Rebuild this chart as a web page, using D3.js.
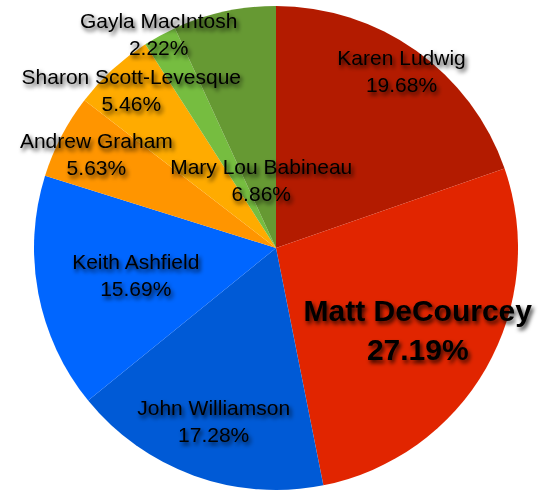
<!DOCTYPE html>
<meta charset="utf-8">
<title>Vote share</title>
<style>
body { margin: 0; background: #fff; }
svg { display: block; }
.lbl { font-family: "Liberation Sans", Arial, Helvetica, sans-serif; fill: #000; }
</style>
<body>
<svg width="542" height="493"></svg>
<script src="https://d3js.org/d3.v7.min.js"></script>
<script>
// candidates, clockwise from 12 o'clock
var names = ["Karen Ludwig", "Matt DeCourcey", "John Williamson", "Keith Ashfield",
             "Andrew Graham", "Sharon Scott-Levesque", "Gayla MacIntosh", "Mary Lou Babineau"];
var shares = [19.68, 27.19, 17.28, 15.69, 5.63, 5.46, 2.22, 6.86];
var colors = ["#b31b00", "#e12500", "#005ad6", "#0066ff", "#ff9500", "#ffab00", "#76bd40", "#669933"];

// how far out (fraction of radius) each label sits on its slice's mid angle
var labelPos = [0.895, 0.675, 0.76, 0.59, 0.837, 0.885, 1.01, 0.286];

var svg = d3.select("svg"),
    cx = 276, cy = 248, R = 242;

var defs = svg.append("defs");
var f = defs.append("filter").attr("id", "shadow")
    .attr("x", "-20%").attr("y", "-30%").attr("width", "140%").attr("height", "170%");
f.append("feDropShadow")
    .attr("dx", 2).attr("dy", 3).attr("stdDeviation", 2.2)
    .attr("flood-color", "#000").attr("flood-opacity", 0.8);

var g = svg.append("g").attr("transform", "translate(" + cx + "," + cy + ")");

var pie = d3.pie().sort(null).value(function(d) { return d; });
var arcs = pie(shares);
var arc = d3.arc().innerRadius(0).outerRadius(R);

g.selectAll("path.slice")
  .data(arcs)
  .enter().append("path")
    .attr("class", "slice")
    .attr("d", arc)
    .attr("fill", function(d, i) { return colors[i]; });

var lab = g.selectAll("text.lbl")
  .data(arcs)
  .enter().append("text")
    .attr("class", "lbl")
    .attr("text-anchor", "middle")
    .attr("filter", "url(#shadow)")
    .attr("transform", function(d, i) {
      var r = R * labelPos[i];
      var c = d3.arc().innerRadius(r).outerRadius(r).centroid(d);
      return "translate(" + c[0] + "," + c[1] + ")";
    })
    .style("font-size", function(d, i) { return i === 1 ? "30px" : "21px"; })
    .style("font-weight", function(d, i) { return i === 1 ? "bold" : "normal"; });

lab.append("tspan")
    .attr("x", 0)
    .attr("y", function(d, i) { return i === 1 ? -8 : -6; })
    .text(function(d, i) { return names[i]; });

lab.append("tspan")
    .attr("x", 0)
    .attr("y", function(d, i) { return i === 1 ? 31 : 21; })
    .text(function(d, i) { return shares[i].toFixed(2) + "%"; });
</script>
</body>
